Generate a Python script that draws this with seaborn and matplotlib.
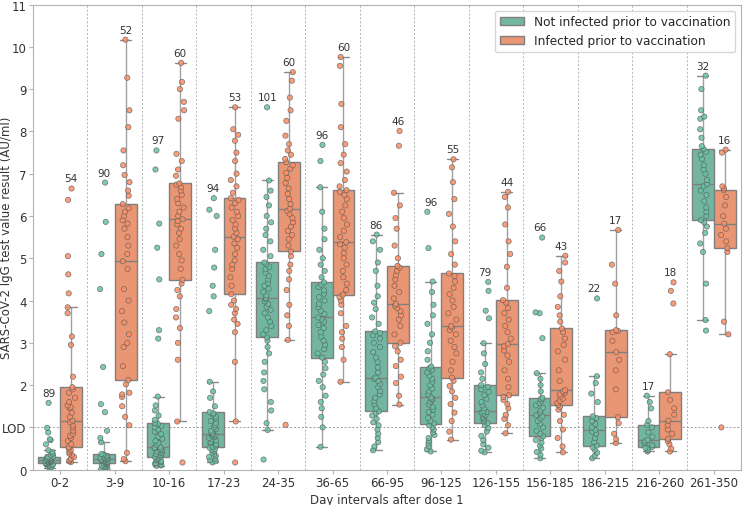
import numpy as np
import pandas as pd
import matplotlib
matplotlib.use("Agg")
import matplotlib.pyplot as plt
import seaborn as sns

# Data ===================================================================================================
days = ["0-2", "3-9", "10-16", "17-23", "24-35", "36-65", "66-95", "96-125",
        "126-155", "156-185", "186-215", "216-260", "261-350"]
status = ["Not infected prior to vaccination", "Infected prior to vaccination"]

# sample sizes printed above each box
n_not = [89, 90, 97, 94, 101, 96, 86, 96, 79, 66, 22, 17, 32]
n_inf = [54, 52, 60, 53, 60, 60, 46, 55, 44, 43, 17, 18, 16]

# IgG values (AU/ml)
not_0_2 = [0.04, 0.06, 0.08, 0.10, 0.11, 0.12, 0.13, 0.14, 0.15, 0.16, 0.16, 0.17, 0.18, 0.19, 0.20,
           0.20, 0.21, 0.22, 0.22, 0.23, 0.23, 0.24, 0.25, 0.26, 0.27, 0.28, 0.29, 0.30, 0.30, 0.31,
           0.31, 0.34, 0.38, 0.42, 0.46, 0.60, 0.70, 0.72, 0.88, 0.99, 1.58]
inf_0_2 = [0.18, 0.20, 0.22, 0.26, 0.30, 0.35, 0.38, 0.42, 0.46, 0.50, 0.53, 0.60, 0.68, 0.75, 0.80,
           0.85, 0.92, 1.00, 1.05, 1.12, 1.16, 1.25, 1.35, 1.45, 1.48, 1.52, 1.60, 1.70, 1.82, 1.90,
           1.95, 2.20, 2.95, 3.15, 3.70, 3.84, 4.17, 4.62, 5.05, 6.38, 6.65]
not_3_9 = [0.01, 0.02, 0.04, 0.06, 0.08, 0.10, 0.11, 0.13, 0.14, 0.15, 0.16, 0.17, 0.18, 0.19, 0.20,
           0.21, 0.22, 0.23, 0.24, 0.24, 0.25, 0.26, 0.27, 0.28, 0.29, 0.30, 0.32, 0.33, 0.35, 0.36,
           0.37, 0.65, 0.75, 0.92, 1.36, 1.55, 2.43, 4.27, 5.10, 5.86, 6.79]
inf_3_9 = [0.20, 0.25, 0.40, 1.05, 1.25, 1.50, 1.72, 1.78, 1.82, 2.02, 2.12, 2.45, 2.90, 3.00, 3.20,
           3.48, 3.75, 4.00, 4.27, 4.75, 4.93, 5.10, 5.30, 5.50, 5.70, 5.82, 5.90, 6.00, 6.10, 6.18,
           6.28, 6.48, 6.60, 6.80, 6.97, 7.20, 7.55, 8.10, 8.50, 9.27, 10.17]
not_10_16 = [0.09, 0.10, 0.12, 0.14, 0.16, 0.18, 0.20, 0.22, 0.24, 0.26, 0.28, 0.30, 0.31, 0.33, 0.35,
             0.37, 0.39, 0.41, 0.43, 0.45, 0.47, 0.49, 0.51, 0.52, 0.53, 0.58, 0.63, 0.68, 0.73, 0.78,
             0.84, 0.90, 0.95, 1.00, 1.04, 1.08, 1.10, 1.18, 1.28, 1.40, 1.52, 1.73, 3.10, 3.30, 4.50,
             5.25, 5.82, 7.10, 7.55]
inf_10_16 = [0.17, 1.14, 2.60, 3.00, 3.35, 3.60, 3.80, 4.10, 4.25, 4.40, 4.49, 4.75, 4.95, 5.10, 5.30,
             5.45, 5.60, 5.70, 5.80, 5.88, 5.92, 6.00, 6.10, 6.20, 6.30, 6.40, 6.50, 6.60, 6.68, 6.74,
             6.77, 6.95, 7.10, 7.30, 7.47, 8.30, 8.50, 8.70, 9.00, 9.17, 9.62]
not_17_23 = [0.17, 0.20, 0.23, 0.26, 0.30, 0.33, 0.36, 0.40, 0.43, 0.46, 0.49, 0.52, 0.54, 0.57, 0.60,
             0.63, 0.66, 0.69, 0.72, 0.75, 0.77, 0.79, 0.81, 0.83, 0.84, 0.88, 0.92, 0.96, 1.00, 1.05,
             1.10, 1.15, 1.20, 1.25, 1.30, 1.33, 1.36, 1.50, 1.70, 1.85, 2.08, 3.75, 4.10, 4.35, 4.78,
             5.20, 6.00, 6.15, 6.42]
inf_17_23 = [0.17, 1.14, 2.55, 3.25, 3.45, 3.55, 3.70, 3.80, 3.90, 4.00, 4.15, 4.35, 4.55, 4.75, 4.85,
             4.95, 5.10, 5.25, 5.35, 5.45, 5.51, 5.60, 5.70, 5.80, 5.90, 6.00, 6.10, 6.20, 6.30, 6.38,
             6.42, 6.55, 6.70, 6.85, 7.00, 7.30, 7.50, 7.78, 7.92, 8.05, 8.57]
not_24_35 = [0.24, 0.94, 1.10, 1.40, 1.60, 1.90, 2.10, 2.30, 2.55, 2.75, 2.90, 3.05, 3.13, 3.20, 3.30,
             3.40, 3.50, 3.60, 3.70, 3.78, 3.85, 3.92, 3.98, 4.03, 4.06, 4.12, 4.20, 4.28, 4.35, 4.42,
             4.50, 4.58, 4.66, 4.74, 4.80, 4.86, 4.90, 5.05, 5.20, 5.40, 5.55, 5.70, 5.85, 6.00, 6.25,
             6.45, 6.60, 6.84, 8.57]
inf_24_35 = [1.06, 3.07, 3.40, 3.65, 3.90, 4.25, 4.50, 4.70, 4.85, 5.05, 5.16, 5.30, 5.45, 5.55, 5.65,
             5.75, 5.85, 5.95, 6.05, 6.12, 6.17, 6.28, 6.40, 6.52, 6.65, 6.78, 6.90, 7.02, 7.12, 7.20,
             7.27, 7.35, 7.45, 7.55, 7.70, 7.90, 8.25, 8.50, 8.80, 9.20, 9.40]
not_36_65 = [0.54, 1.00, 1.25, 1.45, 1.60, 1.75, 1.95, 2.10, 2.25, 2.40, 2.55, 2.65, 2.75, 2.85, 2.95,
             3.05, 3.15, 3.25, 3.35, 3.42, 3.50, 3.56, 3.60, 3.68, 3.76, 3.84, 3.92, 4.00, 4.08, 4.16,
             4.24, 4.32, 4.38, 4.43, 4.55, 4.70, 4.85, 5.00, 5.20, 5.45, 5.70, 6.10, 6.68, 7.30, 7.68]
inf_36_65 = [2.08, 2.60, 2.90, 3.10, 3.25, 3.40, 3.70, 3.90, 4.00, 4.08, 4.14, 4.25, 4.40, 4.55, 4.70,
             4.85, 5.00, 5.12, 5.25, 5.33, 5.38, 5.50, 5.65, 5.80, 5.95, 6.10, 6.25, 6.40, 6.50, 6.57,
             6.61, 6.70, 6.85, 7.05, 7.25, 7.45, 7.70, 8.10, 8.65, 9.55, 9.76]
not_66_95 = [0.46, 0.55, 0.65, 0.75, 0.85, 0.95, 1.05, 1.12, 1.20, 1.28, 1.34, 1.38, 1.45, 1.55, 1.62,
             1.70, 1.78, 1.86, 1.95, 2.03, 2.10, 2.15, 2.18, 2.30, 2.42, 2.55, 2.65, 2.78, 2.90, 3.00,
             3.10, 3.18, 3.23, 3.27, 3.45, 3.60, 3.80, 3.95, 4.10, 4.35, 4.70, 4.90, 5.20, 5.40, 5.56]
inf_66_95 = [1.54, 1.75, 2.05, 2.20, 2.45, 2.60, 2.80, 2.92, 3.00, 3.20, 3.40, 3.55, 3.65, 3.75, 3.82,
             3.88, 3.92, 4.05, 4.20, 4.35, 4.50, 4.60, 4.70, 4.78, 4.82, 5.00, 5.30, 5.70, 5.95, 6.25,
             6.55, 7.66, 8.01]
not_96_125 = [0.43, 0.48, 0.55, 0.62, 0.68, 0.75, 0.82, 0.88, 0.95, 1.00, 1.05, 1.09, 1.15, 1.22, 1.30,
              1.36, 1.42, 1.48, 1.54, 1.60, 1.65, 1.68, 1.71, 1.78, 1.85, 1.92, 2.00, 2.08, 2.15, 2.22,
              2.30, 2.36, 2.40, 2.44, 2.60, 2.80, 3.00, 3.20, 3.45, 3.65, 3.90, 4.20, 4.45, 5.24, 6.10]
inf_96_125 = [0.71, 0.90, 1.15, 1.35, 1.55, 1.70, 1.85, 1.98, 2.10, 2.18, 2.35, 2.55, 2.75, 2.90, 3.05,
              3.20, 3.30, 3.36, 3.40, 3.55, 3.70, 3.85, 4.00, 4.15, 4.30, 4.45, 4.58, 4.64, 4.85, 5.10,
              5.40, 5.75, 6.05, 6.40, 6.80, 7.15, 7.34]
not_126_155 = [0.41, 0.45, 0.52, 0.60, 0.70, 0.80, 0.90, 0.98, 1.05, 1.10, 1.14, 1.18, 1.22, 1.26, 1.29,
               1.32, 1.35, 1.37, 1.38, 1.45, 1.52, 1.60, 1.68, 1.76, 1.84, 1.90, 1.96, 2.00, 2.15, 2.30,
               2.50, 2.75, 2.99, 3.58, 3.76, 4.23, 4.44]
inf_126_155 = [0.86, 1.05, 1.20, 1.30, 1.45, 1.55, 1.65, 1.72, 1.76, 1.95, 2.15, 2.35, 2.55, 2.70, 2.82,
               2.92, 2.97, 3.10, 3.25, 3.40, 3.55, 3.70, 3.82, 3.95, 4.01, 4.30, 4.80, 5.10, 5.40, 5.80,
               6.20, 6.45, 6.57]
not_156_185 = [0.27, 0.35, 0.42, 0.50, 0.57, 0.64, 0.70, 0.75, 0.79, 0.85, 0.92, 1.00, 1.08, 1.15, 1.21,
               1.26, 1.29, 1.35, 1.40, 1.46, 1.52, 1.58, 1.63, 1.67, 1.70, 1.85, 2.00, 2.15, 2.28, 3.11,
               3.70, 3.72, 5.49]
inf_156_185 = [0.41, 0.55, 0.75, 0.95, 1.15, 1.30, 1.42, 1.49, 1.53, 1.58, 1.63, 1.68, 1.73, 1.78, 1.82,
               1.85, 1.88, 2.10, 2.35, 2.60, 2.80, 2.95, 3.10, 3.25, 3.34, 3.50, 3.65, 3.85, 4.10, 4.45,
               4.70, 4.90, 5.06]
not_186_215 = [0.27, 0.33, 0.40, 0.47, 0.53, 0.57, 0.65, 0.75, 0.85, 0.90, 0.94, 1.00, 1.08, 1.15, 1.22,
               1.26, 1.60, 1.80, 2.05, 2.21, 4.05]
inf_186_215 = [0.63, 0.72, 0.85, 1.10, 1.24, 1.90, 2.35, 2.60, 2.78, 3.05, 3.25, 3.28, 3.30, 3.65, 4.40,
               4.85, 5.67]
not_216_260 = [0.43, 0.46, 0.50, 0.52, 0.54, 0.58, 0.63, 0.67, 0.70, 0.78, 0.88, 1.00, 1.06, 1.15, 1.45,
               1.60, 1.75]
inf_216_260 = [0.43, 0.50, 0.60, 0.68, 0.73, 0.85, 0.95, 1.05, 1.16, 1.30, 1.45, 1.65, 1.83, 2.73, 3.93,
               4.23, 4.43]
not_261_350 = [3.29, 3.54, 4.40, 5.15, 5.35, 5.60, 5.75, 5.85, 5.90, 6.00, 6.10, 6.20, 6.35, 6.50, 6.60,
               6.70, 6.75, 6.85, 7.00, 7.10, 7.20, 7.35, 7.45, 7.52, 7.58, 7.65, 7.85, 8.05, 8.30, 8.35,
               8.50, 9.00, 9.32]
inf_261_350 = [1.00, 3.20, 3.50, 5.15, 5.24, 5.40, 5.55, 5.70, 5.82, 6.00, 6.25, 6.45, 6.61, 6.65, 6.70,
               7.50, 7.57]

not_vals = [not_0_2, not_3_9, not_10_16, not_17_23, not_24_35, not_36_65, not_66_95, not_96_125,
            not_126_155, not_156_185, not_186_215, not_216_260, not_261_350]
inf_vals = [inf_0_2, inf_3_9, inf_10_16, inf_17_23, inf_24_35, inf_36_65, inf_66_95, inf_96_125,
            inf_126_155, inf_156_185, inf_186_215, inf_216_260, inf_261_350]

# Long-form table
rows = []
for day, a, b in zip(days, not_vals, inf_vals):
    rows += [(day, status[0], v) for v in a]
    rows += [(day, status[1], v) for v in b]
df = pd.DataFrame(rows, columns=["Interval", "Status", "Value"])

# Plot ===================================================================================================
sns.set_style("ticks")
plt.rcParams["font.family"] = ["DejaVu Sans"]
plt.rcParams["font.size"] = 8.5
np.random.seed(3)  # jitter only

palette = {status[0]: "#66c2a5", status[1]: "#fc8d62"}
grey = "#b3b3b3"
text_col = "#333333"

fig, ax = plt.subplots(figsize=(7.44, 5.06), dpi=100)
fig.subplots_adjust(left=0.0444, right=0.996, bottom=0.0698, top=0.989)

sns.boxplot(
    data=df, x="Interval", y="Value", hue="Status", order=days, hue_order=status,
    palette=palette, showfliers=False, width=0.8, linewidth=1, linecolor="#7f7f7f",
    whiskerprops={"color": "#a0a0a0"}, capprops={"color": "#8a8a8a"}, ax=ax
)
sns.stripplot(
    data=df, x="Interval", y="Value", hue="Status", order=days, hue_order=status,
    palette=palette, dodge=True, jitter=0.15, size=3.8, edgecolor="#606060",
    linewidth=0.5, alpha=0.85, legend=False, ax=ax
)

# separators and limit of detection
for i in range(len(days) - 1):
    ax.axvline(i + 0.5, color=grey, ls=(0, (2, 2)), lw=0.7, zorder=0)
ax.axhline(1, color="#999999", ls=(0, (2, 2)), lw=0.7, zorder=0)

# counts above each box
for i in range(len(days)):
    for j, (vals, counts) in enumerate([(not_vals, n_not), (inf_vals, n_inf)]):
        x = i - 0.2 + 0.4 * j
        ax.text(x, max(vals[i]) + 0.12, str(counts[i]), ha="center", va="bottom",
                fontsize=7.5, color=text_col)

ax.set_ylim(0, 11)
ax.set_yticks(range(12))
ax.set_yticklabels(["0", "LOD"] + [str(k) for k in range(2, 12)])
ax.set_xlabel("Day intervals after dose 1", color=text_col, fontsize=8.5, labelpad=3)
ax.set_ylabel("SARS-CoV-2 IgG test value result (AU/ml)", color=text_col, fontsize=8.5)
ax.yaxis.set_label_coords(-0.028, 0.5)
ax.tick_params(axis="both", colors=grey, labelcolor=text_col, labelsize=8.5, length=3, pad=1.5)

for side in ["left", "right", "top", "bottom"]:
    ax.spines[side].set_visible(True)
    ax.spines[side].set_color(grey)

sns.move_legend(ax, "upper right", title=None, fontsize=8.7, frameon=True)

plt.savefig("out.png", dpi=100)
